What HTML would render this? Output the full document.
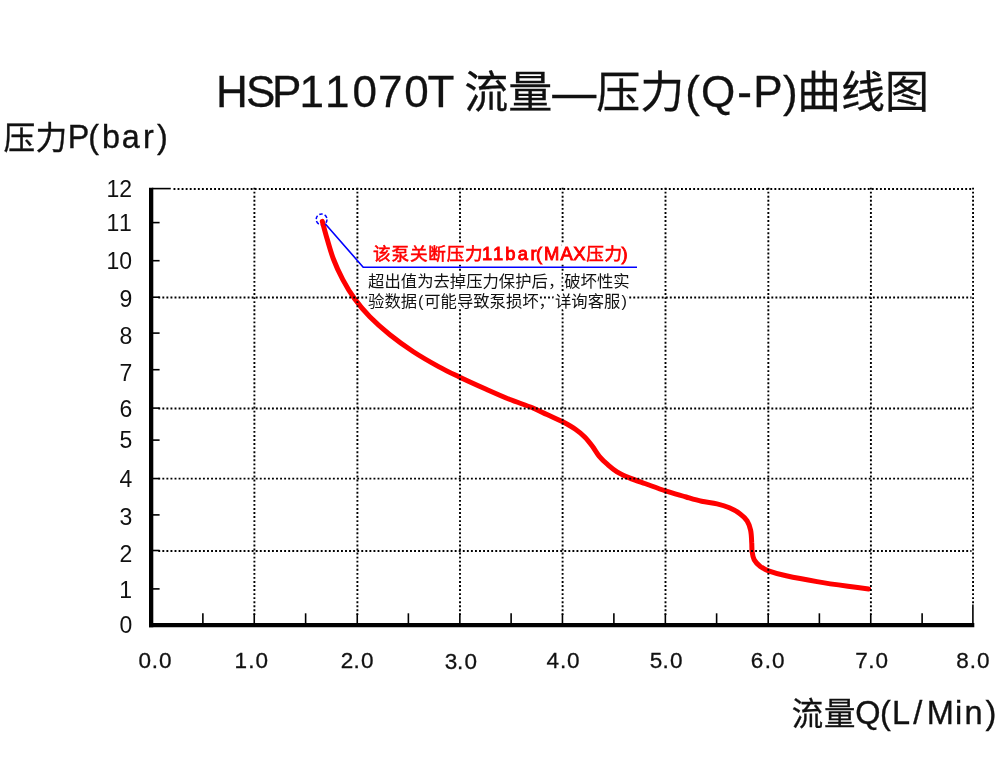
<!DOCTYPE html>
<html lang="zh-CN"><head><meta charset="utf-8"><title>HSP11070T 流量—压力(Q-P)曲线图</title>
<style>html,body{margin:0;padding:0;background:#fff}body{width:1000px;height:779px;overflow:hidden;position:relative}svg{display:block;position:absolute;left:0;top:0}text{font-family:"Liberation Sans","Noto Sans CJK SC",sans-serif;fill:#111}</style></head><body>
<svg width="1000" height="779" viewBox="0 0 1000 779">
<rect width="1000" height="779" fill="#fff"/>
<defs><filter id="halo" color-interpolation-filters="sRGB" x="-3%" y="-30%" width="106%" height="160%"><feMorphology in="SourceAlpha" operator="dilate" radius="3" result="d"/><feFlood flood-color="#fff"/><feComposite in2="d" operator="in" result="h"/><feMerge><feMergeNode in="h"/><feMergeNode in="SourceGraphic"/></feMerge></filter></defs>
<circle cx="321.6" cy="219.4" r="5.4" fill="none" stroke="#0000ff" stroke-width="1.5" stroke-dasharray="3.6 2"/>
<path d="M322.3,221.3 C323.1,224.2 325.1,232.2 327.0,238.5 C328.9,244.8 330.8,252.2 333.4,259.0 C336.0,265.9 339.3,273.0 342.8,279.6 C346.3,286.2 350.1,292.6 354.6,298.8 C359.1,305.0 363.9,310.8 369.8,316.8 C375.7,322.8 382.7,329.0 389.9,334.8 C397.1,340.6 404.9,346.2 413.0,351.5 C421.1,356.8 430.9,362.4 438.6,366.6 C446.3,370.9 451.4,373.2 459.3,377.0 C467.2,380.8 477.9,385.6 486.2,389.3 C494.5,393.0 501.6,396.2 509.3,399.3 C517.0,402.4 526.1,405.2 532.4,407.8 C538.7,410.4 542.0,412.3 547.0,414.6 C552.0,416.9 557.6,419.2 562.3,421.6 C567.0,424.1 571.7,426.7 575.4,429.3 C579.1,431.9 581.9,434.2 584.7,437.0 C587.5,439.8 590.0,443.1 592.4,446.3 C594.8,449.5 596.7,453.2 599.3,456.3 C601.9,459.4 604.8,462.1 607.8,464.7 C610.8,467.3 613.4,469.6 617.0,471.8 C620.6,474.0 624.8,475.9 629.4,477.9 C634.0,479.8 638.8,481.4 644.8,483.5 C650.8,485.6 658.5,488.6 665.4,490.8 C672.3,493.1 680.2,495.2 686.2,497.0 C692.2,498.8 696.5,500.2 701.6,501.3 C706.7,502.4 712.4,502.8 717.0,503.9 C721.6,505.0 725.5,506.1 729.4,507.8 C733.3,509.5 737.2,511.7 740.2,513.9 C743.2,516.1 745.4,518.2 747.1,520.9 C748.8,523.6 749.8,526.5 750.6,530.1 C751.4,533.7 751.5,538.8 751.7,542.4 C752.0,546.0 751.7,548.8 752.1,551.7 C752.5,554.6 752.9,557.4 754.2,559.8 C755.5,562.2 757.6,564.4 760.0,566.2 C762.4,568.0 764.1,569.2 768.5,570.8 C772.9,572.4 778.1,574.0 786.2,575.8 C794.3,577.6 806.7,579.9 817.0,581.6 C827.3,583.4 839.3,585.1 847.9,586.3 C856.5,587.5 865.1,588.5 868.6,588.9" fill="none" stroke="#ff0000" stroke-width="5" stroke-linecap="round" stroke-linejoin="round"/>
<g stroke="#000" stroke-width="1.9" fill="none">
<line x1="173.50" y1="189.00" x2="971.5" y2="189.00" stroke-dasharray="1.9 2.16"/>
<line x1="158.30" y1="297.50" x2="971.5" y2="297.50" stroke-dasharray="1.9 2.16"/>
<line x1="158.30" y1="408.50" x2="971.5" y2="408.50" stroke-dasharray="1.9 2.16"/>
<line x1="158.30" y1="478.65" x2="971.5" y2="478.65" stroke-dasharray="1.9 2.16"/>
<line x1="158.30" y1="551.00" x2="971.5" y2="551.00" stroke-dasharray="1.9 2.16"/>
<line x1="254.40" y1="187.65" x2="254.40" y2="615.0" stroke-dasharray="1.9 2.155"/>
<line x1="357.40" y1="187.65" x2="357.40" y2="615.0" stroke-dasharray="1.9 2.155"/>
<line x1="460.00" y1="187.65" x2="460.00" y2="615.0" stroke-dasharray="1.9 2.155"/>
<line x1="562.60" y1="187.65" x2="562.60" y2="615.0" stroke-dasharray="1.9 2.155"/>
<line x1="665.50" y1="187.65" x2="665.50" y2="615.0" stroke-dasharray="1.9 2.155"/>
<line x1="768.35" y1="187.65" x2="768.35" y2="615.0" stroke-dasharray="1.9 2.155"/>
<line x1="870.90" y1="187.65" x2="870.90" y2="615.0" stroke-dasharray="1.9 2.155"/>
<line x1="973.05" y1="187.65" x2="973.05" y2="605.0" stroke-dasharray="1.9 2.155"/>
</g>
<g stroke="#000" fill="none">
<line x1="151.15" y1="187.8" x2="151.15" y2="627.3" stroke-width="4.3"/>
<line x1="149" y1="625.05" x2="974.3" y2="625.05" stroke-width="4.3"/>
<line x1="152" y1="188.60" x2="170.8" y2="188.60" stroke-width="1.6"/>
<line x1="152" y1="222.60" x2="159.6" y2="222.60" stroke-width="1.6"/>
<line x1="152" y1="260.70" x2="159.6" y2="260.70" stroke-width="1.6"/>
<line x1="152" y1="297.20" x2="159.6" y2="297.20" stroke-width="1.6"/>
<line x1="152" y1="333.10" x2="159.6" y2="333.10" stroke-width="1.6"/>
<line x1="152" y1="369.70" x2="159.6" y2="369.70" stroke-width="1.6"/>
<line x1="152" y1="408.10" x2="159.6" y2="408.10" stroke-width="1.6"/>
<line x1="152" y1="440.10" x2="159.6" y2="440.10" stroke-width="1.6"/>
<line x1="152" y1="478.55" x2="159.6" y2="478.55" stroke-width="1.6"/>
<line x1="152" y1="514.90" x2="159.6" y2="514.90" stroke-width="1.6"/>
<line x1="152" y1="550.50" x2="159.6" y2="550.50" stroke-width="1.6"/>
<line x1="152" y1="588.90" x2="159.6" y2="588.90" stroke-width="1.6"/>
<line x1="202.88" y1="613.3" x2="202.88" y2="624" stroke-width="1.6"/>
<line x1="254.25" y1="613.3" x2="254.25" y2="624" stroke-width="1.6"/>
<line x1="305.62" y1="613.3" x2="305.62" y2="624" stroke-width="1.6"/>
<line x1="357.25" y1="613.3" x2="357.25" y2="624" stroke-width="1.6"/>
<line x1="408.38" y1="613.3" x2="408.38" y2="624" stroke-width="1.6"/>
<line x1="459.85" y1="613.3" x2="459.85" y2="624" stroke-width="1.6"/>
<line x1="511.12" y1="613.3" x2="511.12" y2="624" stroke-width="1.6"/>
<line x1="562.45" y1="613.3" x2="562.45" y2="624" stroke-width="1.6"/>
<line x1="613.88" y1="613.3" x2="613.88" y2="624" stroke-width="1.6"/>
<line x1="665.35" y1="613.3" x2="665.35" y2="624" stroke-width="1.6"/>
<line x1="716.62" y1="613.3" x2="716.62" y2="624" stroke-width="1.6"/>
<line x1="768.20" y1="613.3" x2="768.20" y2="624" stroke-width="1.6"/>
<line x1="819.38" y1="613.3" x2="819.38" y2="624" stroke-width="1.6"/>
<line x1="870.75" y1="613.3" x2="870.75" y2="624" stroke-width="1.6"/>
<line x1="922.12" y1="613.3" x2="922.12" y2="624" stroke-width="1.6"/>
<line x1="972.90" y1="604.5" x2="972.90" y2="624" stroke-width="1.6"/>
</g>
<text y="107.2" font-size="44" stroke="#111" stroke-width="0.3"><tspan x="216.1 246 272.1 299.6 325.1 352.5 378.1 404.2 427.5">HSP11070T</tspan><tspan x="453"> </tspan><tspan x="464.3" y="108" font-size="44">流量—压力</tspan><tspan x="685.2 700.9 737.2 753.2 783.1" y="107.2">(Q-P)</tspan><tspan x="797" y="108" font-size="44">曲线图</tspan></text>
<text y="147.9" font-size="32.3" stroke="#111" stroke-width="0.35"><tspan x="3.6 35.4" y="148.6" font-size="31.7">压力</tspan><tspan x="67.8 88.2 102.1 121.8 143.1 156.9" y="147.9">P(bar)</tspan></text>
<text y="724.2" font-size="32.5" stroke="#111" stroke-width="0.35"><tspan x="791.7 824" y="724.6" font-size="31.4">流量</tspan><tspan x="855.2 880 892.1 913.3 926.7 954.9 964.5 985.4" y="724.2">Q(L/Min)</tspan></text>
<text x="106.6 119.3" y="197.0" font-size="23">12</text>
<text x="106.6 119" y="231.2" font-size="23">11</text>
<text x="106.6 119.3" y="269.0" font-size="23">10</text>
<text x="119.5" y="307.0" font-size="23">9</text>
<text x="119.5" y="343.8" font-size="23">8</text>
<text x="119.4" y="381.1" font-size="23">7</text>
<text x="119.4" y="416.5" font-size="23">6</text>
<text x="119.5" y="448.0" font-size="23">5</text>
<text x="119.5" y="487.3" font-size="23">4</text>
<text x="119.5" y="524.5" font-size="23">3</text>
<text x="119.4" y="561.6" font-size="23">2</text>
<text x="119.2" y="598.0" font-size="23">1</text>
<text x="119.4" y="633.1" font-size="23">0</text>
<text x="138.6 151.7 159" y="667.8" font-size="22.5" stroke="#111" stroke-width="0.3">0.0</text>
<text x="234.4 248.3 255.5" y="667.8" font-size="22.5" stroke="#111" stroke-width="0.3">1.0</text>
<text x="340.7 353.6 360.9" y="667.8" font-size="22.5" stroke="#111" stroke-width="0.3">2.0</text>
<text x="444.8 457.1 464.4" y="668.8" font-size="22.5" stroke="#111" stroke-width="0.3">3.0</text>
<text x="546.5 559.9 567.1" y="667.8" font-size="22.5" stroke="#111" stroke-width="0.3">4.0</text>
<text x="649.8 662.6 669.9" y="667.8" font-size="22.5" stroke="#111" stroke-width="0.3">5.0</text>
<text x="750.7 764.7 771.9" y="667.8" font-size="22.5" stroke="#111" stroke-width="0.3">6.0</text>
<text x="855.3 868.2 875.4" y="667.8" font-size="22.5" stroke="#111" stroke-width="0.3">7.0</text>
<text x="956.2 969.7 976.9" y="667.8" font-size="22.5" stroke="#111" stroke-width="0.3">8.0</text>
<text y="259.6" font-size="18.4" style="fill:#ff0000;stroke:#ff0000;stroke-width:0.55px" filter="url(#halo)"><tspan x="373.1" font-size="17.6" letter-spacing="0.8">该泵关断压力</tspan><tspan x="481.9 493.1 505.2 517.7 530.5 536.1 543.9 560.4 573.3" stroke-width="0.9">11bar(MAX</tspan><tspan x="586.2" font-size="17.6" letter-spacing="0.8">压力</tspan><tspan x="621.6" stroke-width="0.9">)</tspan></text>
<text x="368.1" y="287.0" font-size="16.35" stroke="#fff" stroke-width="4.6" stroke-linejoin="round" paint-order="stroke">超出值为去掉压力保护后，破坏性实</text>
<text y="307.0" font-size="16.35" stroke="#fff" stroke-width="4.6" stroke-linejoin="round" paint-order="stroke"><tspan x="368.1">验数据</tspan><tspan x="417.9">(</tspan><tspan x="424.2">可能导致泵损坏，详询客服</tspan><tspan x="621.4">)</tspan></text>
<polyline points="325.2,223.8 363.2,267.2 637,267.2" fill="none" stroke="#0000ff" stroke-width="1.6"/>
</svg></body></html>
